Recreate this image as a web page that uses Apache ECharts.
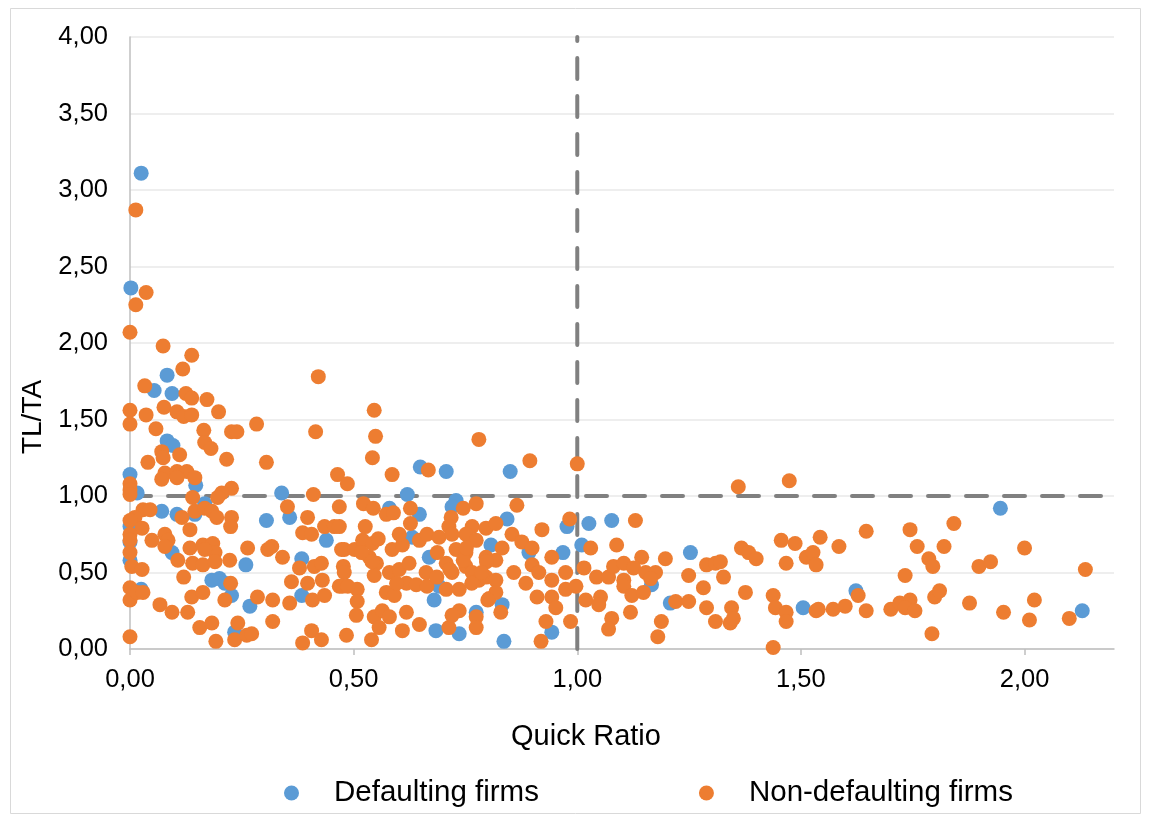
<!DOCTYPE html>
<html>
<head>
<meta charset="utf-8">
<script src="https://cdn.jsdelivr.net/npm/echarts@6/dist/echarts.min.js"></script>
<style>
html,body{margin:0;padding:0;background:#fff;}
#chart{width:1151px;height:821px;}
</style>
</head>
<body>
<div id="chart"></div>
<script>
// ---- Data (Quick Ratio, TL/TA) ----
const xTicks = [0, 0.5, 1, 1.5, 2];
const yMax = 4;
const xMax = 2.2;
const thresholdQR = 1;
const thresholdTLTA = 1;

const defaultingFirms = [
[0.025,3.11],[0.002,2.36],[0.083,1.79],[0.054,1.69],[0.094,1.67],[0.083,1.36],[0.096,1.33],[0,1.14],
[0.147,1.07],[0.016,1.02],[0.339,1.02],[0.167,0.95],[0.071,0.90],[0.105,0.88],[0.145,0.88],[0,0.80],
[0,0.70],[0.305,0.84],[0.357,0.86],[0.439,0.71],[0,0.58],[0.094,0.63],[0.259,0.55],[0.384,0.59],
[0.183,0.45],[0.2,0.46],[0.212,0.43],[0.227,0.35],[0.025,0.39],[0.268,0.28],[0.384,0.35],[0.234,0.11],
[0.649,1.19],[0.707,1.16],[0.85,1.16],[0.62,1.01],[0.729,0.97],[0.72,0.93],[0.58,0.92],[0.647,0.88],
[0.843,0.85],[0.977,0.80],[0.631,0.73],[0.807,0.68],[0.892,0.63],[0.968,0.63],[0.669,0.60],[0.684,0.12],
[0.736,0.10],[0.68,0.32],[0.774,0.24],[0.832,0.29],[0.836,0.05],[0.943,0.11],[0.691,0.41],[1.026,0.82],
[1.077,0.84],[1.01,0.68],[1.253,0.63],[1.166,0.42],[1.208,0.30],[1.505,0.27],[1.946,0.92],[1.623,0.38],
[2.129,0.25]
];

const nonDefaultingFirms = [
[0.013,2.87],[0.036,2.33],[0.013,2.25],[0,2.07],[0.074,1.98],[0.138,1.92],[0.118,1.83],[0.033,1.72],
[0.421,1.78],[0.125,1.67],[0.138,1.64],[0.172,1.63],[0,1.56],[0.036,1.53],[0.076,1.58],[0.105,1.55],
[0.12,1.52],[0.138,1.53],[0.198,1.55],[0,1.47],[0.058,1.44],[0.165,1.43],[0.227,1.42],[0.239,1.42],
[0.283,1.47],[0.415,1.42],
[0.167,1.35],[0.181,1.31],[0.071,1.29],[0.04,1.22],[0.074,1.25],[0.111,1.27],[0.216,1.24],[0.305,1.22],
[0.078,1.15],[0.105,1.16],[0.127,1.16],[0.145,1.12],[0.071,1.11],[0.105,1.12],
[0,1.08],[0,1.04],[0,1.01],[0.227,1.05],[0.205,1.02],[0.196,0.99],[0.41,1.01],[0.464,1.14],
[0.14,0.99],[0.145,0.90],[0.167,0.92],[0.183,0.90],[0.194,0.86],[0.227,0.86],[0.225,0.80],
[0.116,0.86],[0.029,0.91],[0.045,0.91],[0.011,0.86],[0,0.84],[0.027,0.79],[0,0.75],[0,0.71],
[0.049,0.71],[0.078,0.75],[0.085,0.71],[0.078,0.67],[0.134,0.78],
[0.352,0.93],[0.397,0.86],[0.386,0.76],[0.406,0.75],[0.435,0.80],[0.457,0.80],[0.473,0.65],
[0,0.63],[0.004,0.54],[0.027,0.52],[0.107,0.58],[0.134,0.66],[0.163,0.68],[0.185,0.69],[0.19,0.63],
[0.167,0.65],[0.14,0.56],[0.163,0.55],[0.19,0.57],[0.223,0.58],[0.263,0.66],
[0.317,0.67],[0.308,0.65],[0.341,0.60],[0.379,0.53],[0.412,0.54],[0.428,0.56],[0.361,0.44],[0.397,0.43],
[0.43,0.45],[0.468,0.41],[0.477,0.54],
[0.12,0.47],[0.225,0.43],[0,0.40],[0,0.32],[0.016,0.37],[0.029,0.37],[0.067,0.29],[0.094,0.24],
[0.129,0.24],[0.138,0.34],[0.163,0.37],[0.212,0.32],
[0.285,0.34],[0.319,0.32],[0.357,0.30],[0.319,0.18],[0.408,0.32],[0.435,0.35],
[0.156,0.14],[0.183,0.17],[0.192,0.05],[0.234,0.06],[0.241,0.17],[0.261,0.09],[0.272,0.10],[0.406,0.12],
[0.428,0.06],[0.386,0.04],[0,0.08],
[0.546,1.56],[0.549,1.39],[0.542,1.25],[0.78,1.37],[0.894,1.23],[1.0,1.21],[0.586,1.14],[0.486,1.08],
[0.667,1.17],[0.745,0.92],[0.774,0.95],[0.865,0.94],[0.468,0.93],[0.522,0.95],[0.544,0.92],[0.573,0.88],
[0.589,0.89],[0.627,0.92],[0.627,0.82],[0.526,0.80],[0.468,0.80],
[0.718,0.86],[0.713,0.80],[0.765,0.80],[0.796,0.79],[0.818,0.82],[0.921,0.78],[0.983,0.85],
[0.479,0.65],[0.502,0.65],[0.52,0.71],[0.542,0.69],[0.535,0.60],[0.551,0.56],[0.546,0.48],[0.479,0.50],
[0.475,0.41],[0.508,0.39],[0.508,0.31],[0.506,0.22],[0.484,0.09],[0.54,0.06],[0.546,0.21],[0.564,0.25],
[0.58,0.21],[0.557,0.14],[0.609,0.12],[0.618,0.24],[0.647,0.16],[0.573,0.37],[0.591,0.35],[0.586,0.65],
[0.609,0.68],[0.58,0.50],[0.602,0.52],[0.624,0.56],[0.618,0.43],[0.64,0.42],[0.662,0.50],[0.664,0.41],
[0.647,0.71],[0.664,0.75],[0.687,0.63],[0.691,0.73],[0.707,0.56],[0.72,0.50],[0.707,0.39],[0.736,0.39],
[0.729,0.65],[0.751,0.63],[0.72,0.75],[0.751,0.75],[0.774,0.71],[0.751,0.54],[0.765,0.50],[0.78,0.45],
[0.796,0.60],[0.818,0.58],[0.796,0.47],[0.818,0.45],[0.803,0.33],[0.818,0.37],[0.832,0.66],[0.854,0.75],
[0.876,0.70],[0.899,0.66],[0.858,0.50],[0.885,0.43],[0.899,0.55],[0.914,0.50],[0.943,0.45],[0.974,0.50],
[0.91,0.34],[0.943,0.34],[0.952,0.27],[0.974,0.39],[0.829,0.24],[0.774,0.21],[0.774,0.14],[0.713,0.14],
[0.736,0.25],[0.72,0.22],[0.93,0.18],[0.919,0.05],[0.985,0.18],[0.943,0.60],[0.602,0.75],[0.555,0.72],
[0.518,0.63],[0.541,0.57],[0.596,0.43],[0.686,0.47],[0.745,0.58],[0.764,0.43],[0.797,0.57],[0.786,0.50],
[0.80,0.32],[0.752,0.66],[0.715,0.52],[0.487,0.41],
[1.36,1.06],[1.474,1.10],[1.13,0.84],[1.03,0.66],[1.088,0.68],[1.144,0.60],[1.197,0.59],
[1.015,0.53],[1.043,0.47],[1.07,0.47],[1.081,0.54],[1.104,0.56],[1.126,0.53],[1.104,0.45],[1.104,0.41],
[1.122,0.35],[1.148,0.37],[1.153,0.50],[1.175,0.50],[1.164,0.46],
[0.997,0.41],[1.019,0.32],[1.052,0.34],[1.048,0.29],[1.077,0.20],[1.07,0.13],[1.119,0.24],
[1.188,0.18],[1.18,0.08],[1.22,0.31],[1.249,0.31],[1.249,0.48],[1.282,0.40],[1.289,0.27],[1.289,0.55],
[1.309,0.56],[1.32,0.57],[1.327,0.47],[1.309,0.18],[1.342,0.17],[1.345,0.27],[1.349,0.20],[1.367,0.66],
[1.383,0.63],[1.40,0.59],[1.376,0.37],[1.438,0.35],[1.443,0.27],[1.467,0.24],[1.467,0.18],[1.438,0.01],
[1.456,0.71],[1.487,0.69],[1.467,0.56],[1.512,0.60],[1.527,0.63],[1.534,0.55],[1.534,0.25],[1.543,0.73],
[1.585,0.67],[1.646,0.77],[1.744,0.78],[1.76,0.67],[1.82,0.67],[1.842,0.82],[1.786,0.59],[1.795,0.54],
[1.733,0.48],[1.898,0.54],[1.924,0.57],[2.0,0.66],[2.136,0.52],[1.628,0.35],[1.539,0.26],[1.572,0.26],
[1.599,0.28],[1.646,0.25],[1.701,0.26],[1.721,0.30],[1.744,0.32],[1.733,0.27],[1.755,0.25],[1.799,0.34],
[1.81,0.38],[1.793,0.10],[1.877,0.30],[1.953,0.24],[2.022,0.32],[2.011,0.19],[2.1,0.20]
];

const seriesNames = ['Defaulting firms', 'Non-defaulting firms'];
const xAxisTitle = 'Quick Ratio';
const yAxisTitle = 'TL/TA';

// ---- Chart ----
const FONT = "'Liberation Sans', Arial, sans-serif";
const fmt = v => Number(v).toFixed(2).replace('.', ',');
const chart = echarts.init(document.getElementById('chart'), null, {renderer: 'canvas'});

const option = {
  backgroundColor: '#ffffff',
  animation: false,
  graphic: [{
    type: 'rect', silent: true, z: -10,
    shape: {x: 10.5, y: 8.5, width: 1130, height: 805},
    style: {fill: 'none', stroke: '#D9D9D9', lineWidth: 1}
  }],
  grid: {left: 130, right: 37, top: 37, bottom: 172, containLabel: false},
  legend: {
    data: seriesNames,
    left: 279, top: 772,
    icon: 'circle', itemWidth: 15, itemHeight: 15, itemGap: 160,
    textStyle: {fontFamily: FONT, fontSize: 29.5, color: '#000', padding: [0, 0, 0, 30], lineHeight: 32}
  },
  xAxis: {
    type: 'value', min: 0, max: xMax, interval: 0.5,
    name: xAxisTitle, nameLocation: 'middle', nameGap: 73,
    nameTextStyle: {fontFamily: FONT, fontSize: 29, color: '#000', padding: [0, 72, 0, 0]},
    axisLine: {show: true, onZero: false, lineStyle: {color: '#BFBFBF', width: 1.5}},
    axisTick: {show: true, length: 6, customValues: xTicks, lineStyle: {color: '#BFBFBF', width: 1.5}},
    axisLabel: {customValues: xTicks, fontFamily: FONT, fontSize: 25.5, color: '#000', margin: 18,
      formatter: v => (xTicks.indexOf(Math.round(v * 100) / 100) >= 0 ? fmt(v) : '')},
    splitLine: {show: false}
  },
  yAxis: {
    type: 'value', min: 0, max: yMax, interval: 0.5,
    name: yAxisTitle, nameLocation: 'middle', nameGap: 76, nameRotate: 90,
    nameTextStyle: {fontFamily: FONT, fontSize: 28, color: '#000', padding: [0, 148, 0, 0]},
    axisLine: {show: true, onZero: false, lineStyle: {color: '#BFBFBF', width: 1.5}},
    axisTick: {show: false},
    axisLabel: {fontFamily: FONT, fontSize: 25.5, color: '#000', margin: 22, formatter: fmt},
    splitLine: {show: true, lineStyle: {color: '#E8E8E8', width: 1.5}}
  },
  series: [
    {
      name: 'thresholdH', type: 'line', silent: true, z: 1, symbol: 'none',
      data: [[0, thresholdTLTA], [xMax, thresholdTLTA]],
      lineStyle: {color: '#808080', width: 4, type: [21, 17], cap: 'round'}
    },
    {
      name: 'thresholdV', type: 'line', silent: true, z: 1, symbol: 'none',
      data: [[thresholdQR, 0], [thresholdQR, yMax]],
      lineStyle: {color: '#808080', width: 4, type: [21, 17], cap: 'round'}
    },
    {
      name: seriesNames[0], type: 'scatter', z: 3, symbolSize: 15,
      itemStyle: {color: '#5B9BD5', opacity: 1},
      data: defaultingFirms
    },
    {
      name: seriesNames[1], type: 'scatter', z: 4, symbolSize: 15,
      itemStyle: {color: '#ED7D31', opacity: 1},
      data: nonDefaultingFirms
    }
  ]
};
chart.setOption(option);
</script>
</body>
</html>
